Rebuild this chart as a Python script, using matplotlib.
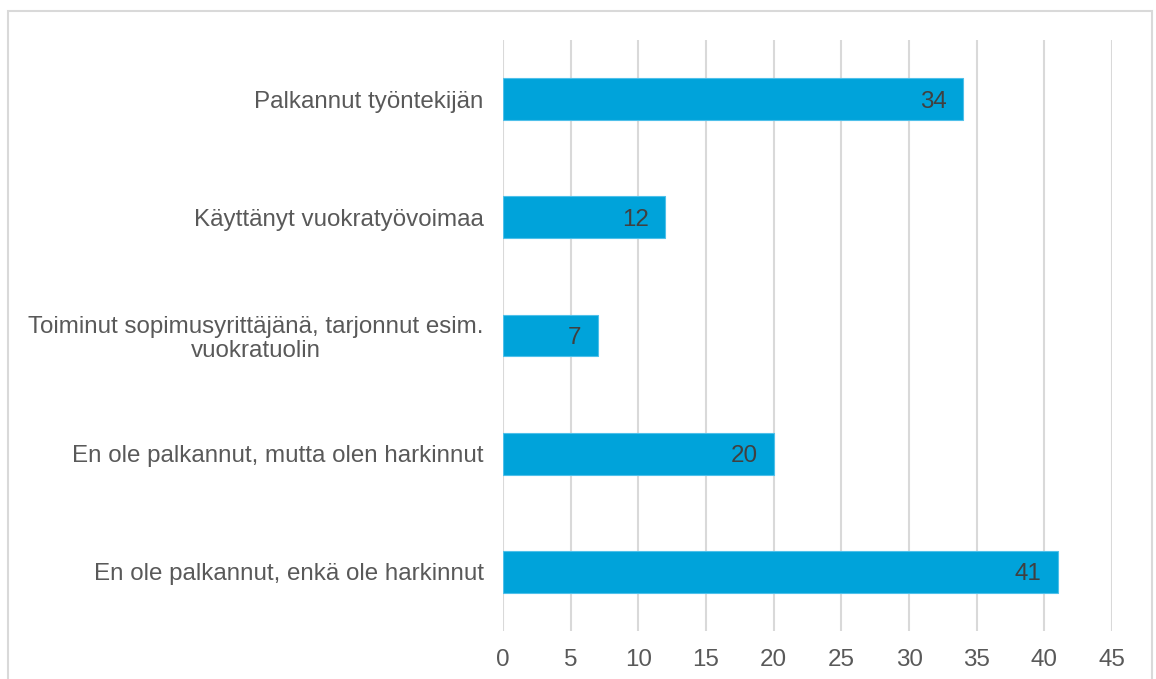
import matplotlib.pyplot as plt
from matplotlib.patches import Rectangle

plt.rcParams['font.family'] = ['Liberation Sans', 'DejaVu Sans']

categories = ['Palkannut työntekijän',
              'Käyttänyt vuokratyövoimaa',
              'Toiminut sopimusyrittäjänä, tarjonnut esim.\nvuokratuolin',
              'En ole palkannut, mutta olen harkinnut',
              'En ole palkannut, enkä ole harkinnut']
values = [34, 12, 7, 20, 41]
xticks = [0, 5, 10, 15, 20, 25, 30, 35, 40, 45]

W, H = 1156, 679
fig = plt.figure(figsize=(W / 100, H / 100), dpi=100)
ax = fig.add_axes([503 / W, 1 - 631 / H, (1112 - 503) / W, (631 - 40) / H])

# outer frame (bottom edge is cut off in the original)
fig.patches.append(Rectangle((8 / W, -0.02), (1152 - 8) / W, 1.02 - 11 / H,
                             transform=fig.transFigure, fill=False,
                             edgecolor='#d9d9d9', linewidth=1.5))

y = list(range(len(categories)))
bars = ax.barh(y, values, height=0.355, color='#00a3da',
               edgecolor='#4fc0ea', linewidth=0.8, zorder=3)
for b, v in zip(bars, values):
    ax.text(b.get_width() - 1.2, b.get_y() + b.get_height() / 2, str(v),
            ha='right', va='center_baseline', fontsize=17.4, color='#404040', zorder=4)

ax.set_ylim(len(categories) - 0.5, -0.5)
ax.set_xlim(0, 45)
ax.set_xticks(xticks)
ax.set_yticks(y)
ax.set_yticklabels(categories, fontsize=17.4, color='#595959', linespacing=1.12)
for lab in ax.get_yticklabels():
    lab.set_multialignment('center')
ax.tick_params(axis='x', length=0, pad=13, labelsize=17.4, labelcolor='#595959')
ax.tick_params(axis='y', length=0, pad=14)
ax.grid(axis='x', color='#d9d9d9', linewidth=1.5, zorder=0)
for s in ax.spines.values():
    s.set_visible(False)

fig.savefig('out.png', dpi=100)
